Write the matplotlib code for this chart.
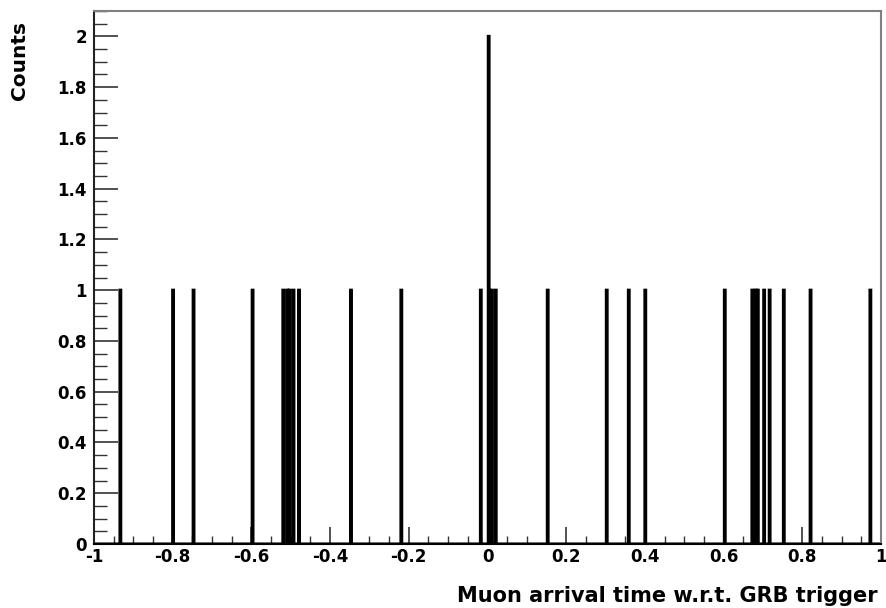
import numpy as np
import matplotlib
matplotlib.use("Agg")
import matplotlib.pyplot as plt
from matplotlib.ticker import MultipleLocator, FuncFormatter

plt.rcParams['font.family'] = ['DejaVu Sans']
plt.rcParams['font.weight'] = 'bold'
plt.rcParams['axes.unicode_minus'] = False

# muon arrival times (one entry per muon)
arrival_times = [-0.933, -0.799, -0.748, -0.598,
                 -0.520, -0.510, -0.503, -0.494, -0.479,
                 -0.347, -0.218, -0.017, 0.003, 0.003, 0.011, 0.021,
                 0.153, 0.303, 0.360, 0.402, 0.603,
                 0.673, 0.680, 0.687, 0.703, 0.716, 0.752, 0.821, 0.973]
n_bins = 1000
x_range = (-1, 1)

fig = plt.figure(figsize=(8.86, 6.08), dpi=100)
ax = fig.add_axes([94/886, 64/608, 787/886, 533/608])

ax.hist(arrival_times, bins=n_bins, range=x_range, histtype='step',
        color='black', linewidth=2.2)

ax.set_xlim(-1, 1)
ax.set_ylim(0, 2.1)

fmt = FuncFormatter(lambda v, pos: '%g' % round(v, 6))
ax.xaxis.set_major_locator(MultipleLocator(0.2))
ax.xaxis.set_minor_locator(MultipleLocator(0.05))
ax.yaxis.set_major_locator(MultipleLocator(0.2))
ax.yaxis.set_minor_locator(MultipleLocator(0.05))
ax.xaxis.set_major_formatter(fmt)
ax.yaxis.set_major_formatter(fmt)

ax.tick_params(axis='both', which='both', direction='in', top=False, right=False,
               labelsize=12, color='#333333')
ax.tick_params(axis='x', which='major', length=12, width=1.2, pad=3)
ax.tick_params(axis='x', which='minor', length=6, width=1.0)
ax.tick_params(axis='y', which='major', length=17, width=1.2, pad=5)
ax.tick_params(axis='y', which='minor', length=9, width=1.0)
for lab in ax.get_xticklabels() + ax.get_yticklabels():
    lab.set_fontweight('bold')

ax.spines['left'].set_color('#222222')
ax.spines['bottom'].set_color('black')
ax.spines['left'].set_linewidth(1.5)
ax.spines['bottom'].set_linewidth(1.5)
ax.spines['top'].set_color('#808080')
ax.spines['right'].set_color('#808080')
ax.spines['top'].set_linewidth(1.5)
ax.spines['right'].set_linewidth(1.5)

fig.text(878/886, 1 - 596/608, 'Muon arrival time w.r.t. GRB trigger',
         ha='right', va='center', fontsize=15, fontweight='bold')
fig.text(20/886, 1 - 21/608, 'Counts', rotation=90,
         ha='center', va='top', fontsize=14.5, fontweight='bold')

fig.savefig('out.png', dpi=100)
